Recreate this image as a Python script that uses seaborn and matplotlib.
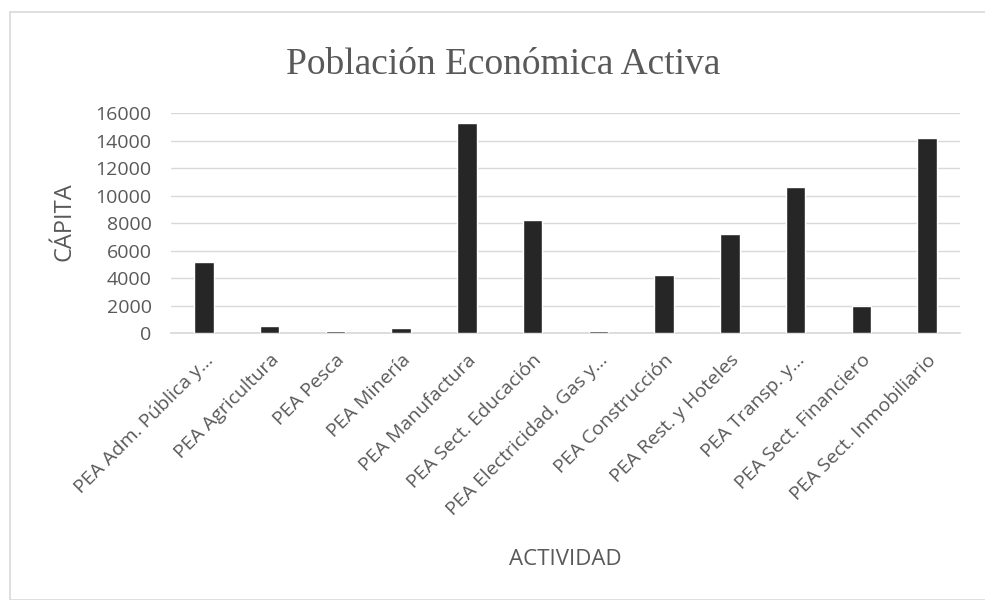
import matplotlib
matplotlib.use("Agg")
import matplotlib.pyplot as plt
import seaborn as sns
import pandas as pd
from matplotlib.patches import Rectangle

categorias = ["PEA Adm. Pública y...", "PEA Agricultura", "PEA Pesca", "PEA Minería",
              "PEA Manufactura", "PEA Sect. Educación", "PEA Electricidad, Gas y...",
              "PEA Construcción", "PEA Rest. y Hoteles", "PEA Transp. y...",
              "PEA Sect. Financiero", "PEA Sect. Inmobiliario"]
valores = [5200, 540, 120, 360, 15270, 8250, 180, 4220, 7200, 10630, 1950, 14150]
yticks = [0, 2000, 4000, 6000, 8000, 10000, 12000, 14000, 16000]

df = pd.DataFrame({"ACTIVIDAD": categorias, "CÁPITA": valores})

sns.set_theme(style="white")
plt.rcParams['font.family'] = ['Open Sans', 'DejaVu Sans']

fig = plt.figure(figsize=(9.85, 6), dpi=100)
ax = fig.add_axes([171/985, 1-333/600, 789/985, 220/600])

sns.barplot(data=df, x="ACTIVIDAD", y="CÁPITA", color="#262626", width=0.3,
            saturation=1, ax=ax, zorder=3)

ax.set_ylim(0, 16000)
ax.set_yticks(yticks)
ax.set_yticklabels([str(v) for v in yticks], fontsize=14, color="#595959")
ax.grid(axis="y", color="#d9d9d9", linewidth=1, zorder=0)
ax.set_axisbelow(True)
for s in ["top", "right", "left"]:
    ax.spines[s].set_visible(False)
ax.spines["bottom"].set_color("#d9d9d9")
ax.tick_params(axis="y", length=0, pad=14)
ax.tick_params(axis="x", length=0, pad=13)
ax.set_xticks(range(len(categorias)))
ax.set_xticklabels(categorias, rotation=45, ha="right", rotation_mode="anchor",
                   fontsize=14, color="#595959")
ax.set_xlabel("ACTIVIDAD", fontsize=16, color="#595959")
ax.set_ylabel("CÁPITA", fontsize=17, color="#595959")
ax.xaxis.set_label_coords(0.5, -216/220)
ax.yaxis.set_label_coords(-95/789, 111/220)

fig.text(503/985, 1-65/600, "Población Económica Activa", ha="center", va="center",
         fontsize=27, color="#595959", family=["Liberation Serif", "DejaVu Serif"])

fig.patches.append(Rectangle((10/985, 0.0), 1.2, 1-12/600, transform=fig.transFigure,
                             fill=False, edgecolor="#d9d9d9", linewidth=1.2))

fig.savefig("out.png", dpi=100)
